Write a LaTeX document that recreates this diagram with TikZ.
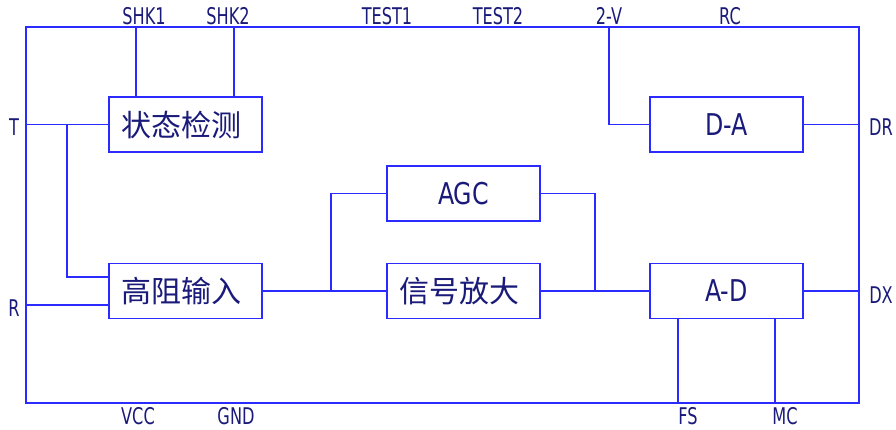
\documentclass[tikz,border=0pt]{standalone}
\usepackage{fontspec}
\setmainfont{DejaVu Sans Condensed}
\newfontfamily\cjk{Noto Sans CJK SC}
\definecolor{wire}{HTML}{2B2BFF}
\definecolor{ink}{HTML}{1A1A7A}
\newcommand\narrowed[2]{\scalebox{#1}[1]{#2}}
\newcommand\cjkleft[1]{\hspace*{-9pt}#1}
\begin{document}
\begin{tikzpicture}[x=1pt,y=-1pt,
  blk/.style={draw=wire,line width=1.9pt,minimum width=153pt,minimum height=55pt,inner sep=0pt,text=ink,font=\fontsize{30}{30}\selectfont},
  cblk/.style={blk,font=\cjk\fontsize{30}{30}\selectfont},
  pin/.style={text=ink,font=\fontsize{23}{23}\selectfont,inner sep=0pt},
  wr/.style={draw=wire,line width=1.8pt}]
\useasboundingbox (0,0) rectangle (896,430);
% outer frame
\draw[wr] (26,27) rectangle (859,403);
% blocks
\node[cblk] (zt) at (185.5,124.5) {\cjkleft{状态检测}};
\node[cblk] (gz) at (185.5,291) {\cjkleft{高阻输入}};
\node[blk] (agc) at (463.5,193.5) {\narrowed{0.88}{AGC}};
\node[cblk] (xh) at (463.5,291) {\cjkleft{信号放大}};
\node[blk] (da) at (726.5,124.5) {\narrowed{0.88}{D-A}};
\node[blk] (ad) at (726.5,291) {\narrowed{0.88}{A-D}};
% pin coordinates on frame
\coordinate (shk1) at (136,27);
\coordinate (shk2) at (234,27);
\coordinate (v2) at (609,27);
\coordinate (tpin) at (26,124.5);
\coordinate (rpin) at (26,305);
\coordinate (drpin) at (859,124.5);
\coordinate (dxpin) at (859,291);
\coordinate (fspin) at (678,403);
\coordinate (mcpin) at (775,403);
\coordinate (tj) at (67,124.5);
\coordinate (aj) at (331,291);
\coordinate (bj) at (595,291);
% labels
\node[pin] at (144,16) {\narrowed{0.78}{SHK1}};
\node[pin] at (228,16) {\narrowed{0.78}{SHK2}};
\node[pin] at (387,16) {\narrowed{0.78}{TEST1}};
\node[pin] at (498,16) {\narrowed{0.78}{TEST2}};
\node[pin] at (609,16) {\narrowed{0.78}{2-V}};
\node[pin] at (730,16) {\narrowed{0.78}{RC}};
\node[pin] at (14,127) {\narrowed{0.78}{T}};
\node[pin] at (14,308) {\narrowed{0.78}{R}};
\node[pin] at (881,127) {\narrowed{0.78}{DR}};
\node[pin] at (881,295) {\narrowed{0.78}{DX}};
\node[pin] at (138,416) {\narrowed{0.78}{VCC}};
\node[pin] at (236,416) {\narrowed{0.78}{GND}};
\node[pin] at (688,416) {\narrowed{0.78}{FS}};
\node[pin] at (785,416) {\narrowed{0.78}{MC}};
% wires
\draw[wr] (shk1) -- (shk1 |- zt.north);
\draw[wr] (shk2) -- (shk2 |- zt.north);
\draw[wr] (tpin) -- (zt.west);
\draw[wr] (tj) |- (gz.west |- 0,277);
\draw[wr] (rpin) -- (gz.west |- rpin);
\draw[wr] (gz.east) -- (xh.west);
\draw[wr] (aj) |- (agc.west);
\draw[wr] (agc.east) -| (bj);
\draw[wr] (xh.east) -- (ad.west);
\draw[wr] (v2) |- (da.west);
\draw[wr] (da.east) -- (drpin);
\draw[wr] (ad.east) -- (dxpin);
\draw[wr] (fspin |- ad.south) -- (fspin);
\draw[wr] (mcpin |- ad.south) -- (mcpin);
\end{tikzpicture}
\end{document}
